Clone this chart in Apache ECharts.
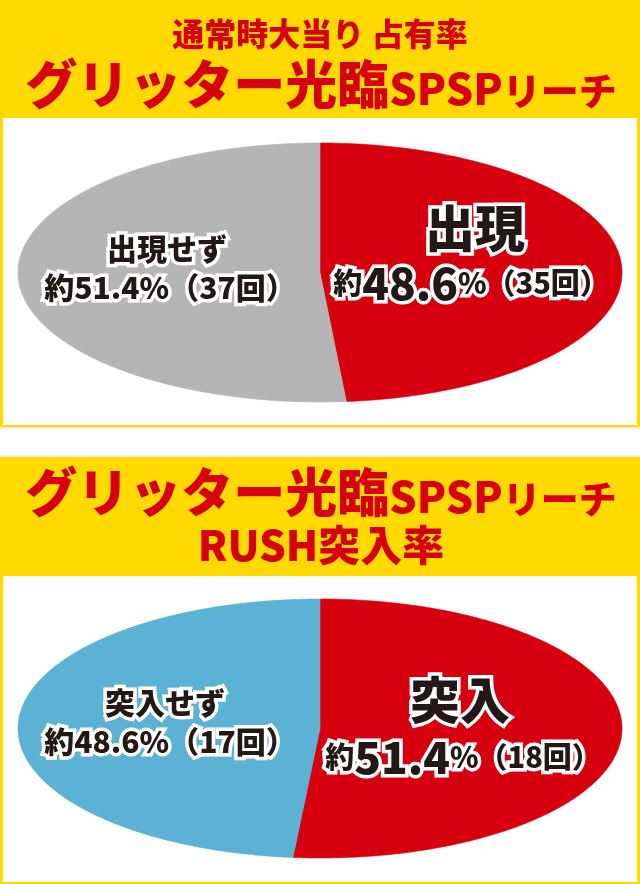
<!DOCTYPE html>
<html>
<head>
<meta charset="utf-8">
<script src="https://cdn.jsdelivr.net/npm/echarts@6/dist/echarts.min.js"></script>
<style>
html,body{margin:0;padding:0;background:#fff;}
#main{width:640px;height:884px;}
</style>
</head>
<body>
<div id="main"></div>
<script>
// ---- data ----
const chart1Names = ['出現', '出現せず'];
const chart1Counts = [35, 37];
const chart1Pcts = ['48.6', '51.4'];
const chart2Names = ['突入', '突入せず'];
const chart2Counts = [18, 17];
const chart2Pcts = ['51.4', '48.6'];

const title1Line1 = '通常時大当り 占有率';
const titleMainParts = ['グリッター光臨', 'SPSP', 'リーチ'];
const title2Line2 = 'RUSH突入率';

// ---- styles / layout ----
const RED = '#D7000F';
const YELLOW = '#FFD900';
const chart1Colors = [RED, '#B5B5B6'];
const chart2Colors = [RED, '#5BB2D5'];
const FONT = '"Noto Sans CJK JP", "Noto Sans CJK SC", sans-serif';
const INK = '#231815';

const pie1 = {cx: 320, cy: 272.5, rx: 302, ry: 129.5,
  labels: [{big: true, name: [475, 228], value: [471, 283]},
           {big: false, name: [167, 249], value: [170, 288]}]};
const pie2 = {cx: 320, cy: 728.5, rx: 302, ry: 129.5,
  labels: [{big: true, name: [460, 700], value: [463, 757]},
           {big: false, name: [165, 703], value: [170, 742]}]};

function labelTexts(lay, name, pct, count) {
  const base = {
    fontFamily: FONT, fontWeight: 900, fill: INK,
    stroke: '#fff', lineWidth: 7, align: 'center', verticalAlign: 'middle'
  };
  if (lay.big) {
    return [
      {type: 'text', x: lay.name[0], y: lay.name[1], z2: 10,
       style: Object.assign({}, base, {text: name, fontSize: 50})},
      {type: 'text', x: lay.value[0], y: lay.value[1], z2: 10,
       style: Object.assign({}, base, {
         text: '{s|約}{b|' + pct + '}{s|%（' + count + '回）}',
         fontSize: 29,
         rich: {
           s: {fontSize: 29, fontFamily: FONT, fontWeight: 900, fill: INK, stroke: '#fff', lineWidth: 7},
           b: {fontSize: 44, fontFamily: FONT, fontWeight: 900, fill: INK, stroke: '#fff', lineWidth: 7}
         }
       })}
    ];
  }
  return [
    {type: 'text', x: lay.name[0], y: lay.name[1], z2: 10,
     style: Object.assign({}, base, {text: name, fontSize: 30})},
    {type: 'text', x: lay.value[0], y: lay.value[1], z2: 10,
     style: Object.assign({}, base, {text: '約' + pct + '%（' + count + '回）', fontSize: 30})}
  ];
}

function ellipsePie(counts, names, pcts, colors, geo) {
  const total = counts.reduce((a, b) => a + b, 0);
  return {
    type: 'custom',
    coordinateSystem: 'none',
    silent: true,
    animation: false,
    data: counts.map((v, i) => ({name: names[i], value: [v]})),
    renderItem: function (params, api) {
      const i = params.dataIndex;
      let start = 0;
      for (let k = 0; k < i; k++) start += counts[k];
      const v = api.value(0);
      const a0 = start / total * Math.PI * 2;
      const a1 = (start + v) / total * Math.PI * 2;
      const pts = [[geo.cx, geo.cy]];
      const n = 240;
      for (let j = 0; j <= n; j++) {
        const t = a0 + (a1 - a0) * j / n;
        pts.push([geo.cx + geo.rx * Math.sin(t), geo.cy - geo.ry * Math.cos(t)]);
      }
      const children = [{
        type: 'polygon', shape: {points: pts}, z2: 1,
        style: {fill: colors[i], stroke: colors[i], lineWidth: 0.6}
      }].concat(labelTexts(geo.labels[i], names[i], pcts[i], counts[i]));
      return {type: 'group', children: children};
    }
  };
}

function mainTitle(y) {
  return {
    type: 'text', x: 321, y: y,
    style: {
      text: '{a|' + titleMainParts[0] + '}{b|' + titleMainParts[1] + '}{c|' + titleMainParts[2] + '}',
      align: 'center', verticalAlign: 'middle', fill: RED,
      fontFamily: FONT, fontWeight: 900, fontSize: 52,
      rich: {
        a: {fontSize: 52, fontFamily: FONT, fontWeight: 900, fill: RED},
        b: {fontSize: 43, fontFamily: FONT, fontWeight: 900, fill: RED, verticalAlign: 'bottom', lineHeight: 48},
        c: {fontSize: 38, fontFamily: FONT, fontWeight: 900, fill: RED, verticalAlign: 'bottom', lineHeight: 48}
      }
    }
  };
}

const chart = echarts.init(document.getElementById('main'), null, {renderer: 'canvas'});
chart.setOption({
  backgroundColor: '#fff',
  animation: false,
  graphic: [
    {type: 'rect', shape: {x: 0, y: 0, width: 640, height: 427}, style: {fill: YELLOW}, silent: true},
    {type: 'rect', shape: {x: 3, y: 118, width: 634, height: 307}, style: {fill: '#fff'}, silent: true},
    {type: 'rect', shape: {x: 0, y: 427.5, width: 640, height: 1}, style: {fill: '#d6d6d6'}, silent: true},
    {type: 'rect', shape: {x: 0, y: 455.5, width: 640, height: 1}, style: {fill: '#e0e0e0'}, silent: true},
    {type: 'rect', shape: {x: 0, y: 457, width: 640, height: 427}, style: {fill: YELLOW}, silent: true},
    {type: 'rect', shape: {x: 3, y: 576, width: 634, height: 306}, style: {fill: '#fff'}, silent: true},
    {type: 'text', x: 320, y: 34, silent: true,
     style: {text: title1Line1, align: 'center', verticalAlign: 'middle', fill: RED,
             fontFamily: FONT, fontWeight: 900, fontSize: 32}},
    Object.assign(mainTitle(84), {silent: true}),
    Object.assign(mainTitle(492), {silent: true}),
    {type: 'text', x: 321, y: 545, silent: true,
     style: {text: title2Line2, align: 'center', verticalAlign: 'middle', fill: RED,
             fontFamily: FONT, fontWeight: 900, fontSize: 42}}
  ],
  series: [
    ellipsePie(chart1Counts, chart1Names, chart1Pcts, chart1Colors, pie1),
    ellipsePie(chart2Counts, chart2Names, chart2Pcts, chart2Colors, pie2)
  ]
});
</script>
</body>
</html>
